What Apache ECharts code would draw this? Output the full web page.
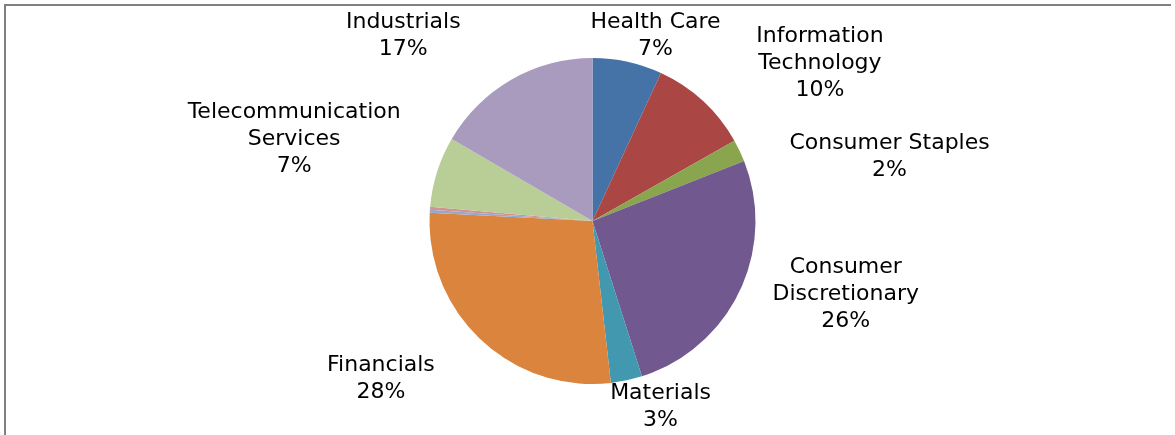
<!DOCTYPE html>
<html>
<head>
<meta charset="utf-8">
<script src="https://cdn.jsdelivr.net/npm/echarts@6/dist/echarts.min.js"></script>
<style>
html,body{margin:0;padding:0;background:#fff;}
#chart{width:1175px;height:435px;}
</style>
</head>
<body>
<div id="chart"></div>
<script>
// Data
const sectors = ['Health Care','Information\nTechnology','Consumer Staples','Consumer\nDiscretionary','Materials','Financials','Energy','Utilities','Telecommunication\nServices','Industrials'];
const weights = [6.9, 9.9, 2.2, 26.1, 3.1, 27.6, 0.3, 0.3, 7.0, 16.6];
const showLabel = [true, true, true, true, true, true, false, false, true, true];
const colors = ['#4572A7','#AA4643','#89A54E','#71588F','#4198AF','#DB843D','#93A9CF','#D19392','#B9CD96','#A99BBD'];

// Label nudges (px) from the slice's outer bisector point
const labelNudge = [[28,-26],[117,-38],[150,6],[106,3],[34,26],[-100,39],[0,0],[0,0],[-143,-32],[-108,-44]];

const CX = 592.5, CY = 221, R = 163;
const total = weights.reduce((a,b)=>a+b,0);
const cum = [];
let acc = 0;
weights.forEach(w => { cum.push(acc + w/2); acc += w; });

const chart = echarts.init(document.getElementById('chart'), null, {renderer:'canvas'});
chart.setOption({
  backgroundColor: '#fff',
  animation: false,
  color: colors,
  graphic: [
    {type:'line', shape:{x1:4, y1:5, x2:1171, y2:5}, style:{stroke:'#808080', lineWidth:2}},
    {type:'line', shape:{x1:5, y1:4, x2:5, y2:435}, style:{stroke:'#808080', lineWidth:2}}
  ],
  series: [{
    type: 'pie',
    center: [CX, CY],
    radius: [0, R],
    startAngle: 90,
    clockwise: true,
    avoidLabelOverlap: false,
    itemStyle: {borderWidth: 0},
    emphasis: {disabled: true},
    label: {
      show: true,
      position: 'outside',
      fontFamily: 'DejaVu Sans, Verdana, sans-serif',
      fontSize: 22,
      lineHeight: 27,
      color: '#000',
      formatter: p => p.name + '\n' + Math.round(p.value / total * 100) + '%'
    },
    labelLine: {show: false, length: 0, length2: 0},
    labelLayout: function (p) {
      const i = p.dataIndex;
      const ang = cum[i] / total * 2 * Math.PI;
      const ax = CX + Math.sin(ang) * R;
      const ay = CY - Math.cos(ang) * R;
      const n = labelNudge[i];
      return {x: ax + n[0], y: ay + n[1], align: 'center', verticalAlign: 'middle'};
    },
    data: sectors.map((s, i) => ({
      name: s,
      value: weights[i],
      label: {show: showLabel[i]}
    }))
  }]
});
</script>
</body>
</html>
